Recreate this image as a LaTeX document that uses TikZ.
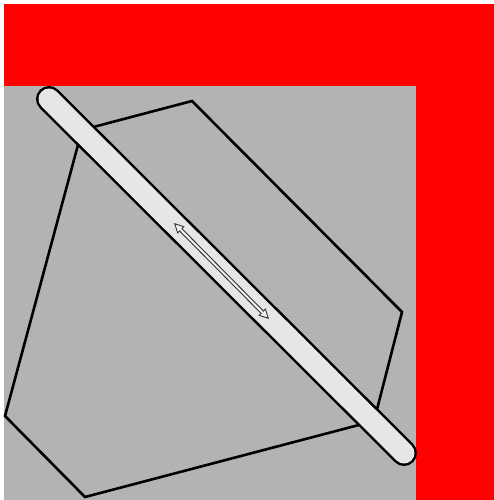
\documentclass[tikz,border=0pt]{standalone}
\usetikzlibrary{arrows.meta}
\definecolor{barfill}{HTML}{E6E6E6}
\definecolor{bgray}{HTML}{B3B3B3}
\definecolor{tipfill}{HTML}{EEF2F8}
\tikzset{
  poly/.style={draw=black, line width=2.6pt, line join=miter},
}
\begin{document}
\begin{tikzpicture}[x=1pt,y=-1pt]
\useasboundingbox (0,0) rectangle (494,500);
\fill[red] (4,4) rectangle (494,500);
\fill[bgray] (4,86) rectangle (416,500);
\draw[poly] (82,130) -- (192,101) -- (402,312) -- (374,421) -- (85,497) -- (5,416) -- cycle;
\coordinate (b1) at (49,99);
\coordinate (b2) at (404,453);
\draw[line width=26pt, line cap=round, black] (b1) -- (b2);
\draw[line width=21pt, line cap=round, barfill] (b1) -- (b2);
\coordinate (a1) at (174,223);
\coordinate (a2) at (269,319);
\draw[line width=4.2pt, draw=black!80, {Triangle[length=10pt,width=10pt,line width=0.9pt,fill=tipfill]}-{Triangle[length=10pt,width=10pt,line width=0.9pt,fill=tipfill]}] (a1) -- (a2);
\draw[line width=2pt, draw=tipfill, shorten <=8pt, shorten >=8pt] (a1) -- (a2);
\end{tikzpicture}
\end{document}
